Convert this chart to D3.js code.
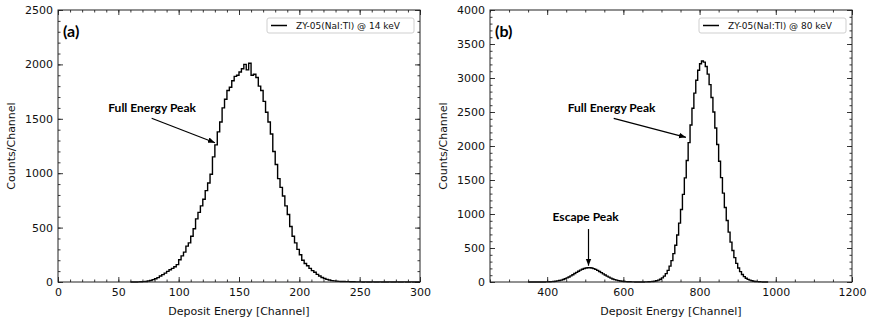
<!DOCTYPE html>
<html>
<head>
<meta charset="utf-8">
<script src="https://cdn.jsdelivr.net/npm/d3@7"></script>
<style>
  body { margin: 0; background: #fff; }
  svg { display: block; }
</style>
</head>
<body>
<svg id="chart" width="872" height="327"></svg>
<script>
// panel (a): 14 keV, bins of 2 channels starting at channel 60
const binStartA = 60, binWidthA = 2;
const countsA = [0, 0, 0, 1, 2, 3, 5, 9, 14, 22, 30, 40, 55, 68, 82, 98, 112, 125, 140, 160,
  205, 240, 275, 330, 360, 420, 490, 580, 640, 700, 760, 840, 910, 990, 1150, 1260, 1380, 1470, 1600, 1680,
  1760, 1790, 1850, 1890, 1900, 1930, 1960, 2000, 1950, 2010, 1900, 1910, 1880, 1800, 1760, 1660, 1560, 1470, 1360, 1200,
  1080, 950, 870, 790, 700, 620, 510, 420, 360, 300, 250, 200, 170, 150, 125, 105, 90, 70, 55, 42,
  32, 24, 18, 13, 10, 8, 6, 5, 4, 3, 3, 2, 2, 1, 1, 1, 0, 1, 0, 0,
  1, 0, 0, 1, 0, 0, 0, 1, 0, 0, 1, 0, 0, 1, 0, 0, 1, 0, 0, 0];

// panel (b): 80 keV, bins of 5 channels starting at channel 350
const binStartB = 350, binWidthB = 5;
const countsB = [0, 0, 0, 0, 0, 0, 0, 1, 1, 2, 2, 4, 6, 8, 11, 16, 21, 28, 37, 48,
  60, 74, 90, 106, 124, 141, 158, 174, 188, 199, 206, 210, 209, 205, 197, 185, 171, 155, 138, 120,
  103, 86, 71, 57, 45, 35, 27, 20, 15, 11, 8, 5, 4, 3, 2, 2, 1, 1, 1, 1,
  1, 2, 2, 3, 5, 7, 12, 18, 27, 41, 60, 86, 123, 171, 234, 315, 417, 541, 691, 866,
  1066, 1289, 1531, 1787, 2050, 2309, 2556, 2778, 2967, 3113, 3209, 3250, 3234, 3169, 3057, 2903, 2714, 2499, 2265, 2021,
  1775, 1535, 1307, 1095, 904, 734, 587, 463, 359, 274, 205, 152, 111, 79, 56, 39, 27, 18, 12, 8,
  5, 3, 2, 1, 1, 0];

const xTicksA = [0, 50, 100, 150, 200, 250, 300];
const yTicksA = [0, 500, 1000, 1500, 2000, 2500];
const xTicksB = [400, 600, 800, 1000, 1200];
const yTicksB = [0, 500, 1000, 1500, 2000, 2500, 3000, 3500, 4000];

const legendLabels = ["ZY-05(NaI:Tl) @ 14 keV", "ZY-05(NaI:Tl) @ 80 keV"];
const panelTags = ["(a)", "(b)"];
// annotations in data coordinates: text anchor, arrow tail, arrow head
const notesA = [{ text: "Full Energy Peak", tx: 78, ty: 1560, x1: 77.6, y1: 1505, x2: 130.1, y2: 1280 }];
const notesB = [
  { text: "Full Energy Peak", tx: 569, ty: 2500, x1: 574.7, y1: 2407, x2: 764.2, y2: 2128 },
  { text: "Escape Peak", tx: 501, ty: 897, x1: 508.5, y1: 779, x2: 508.5, y2: 240 }
];

const svg = d3.select("#chart");
const plotTop = 10, plotBottom = 282;

svg.append("defs").append("marker")
  .attr("id", "head")
  .attr("viewBox", "0 0 10 10")
  .attr("refX", 10).attr("refY", 5)
  .attr("markerWidth", 7).attr("markerHeight", 7)
  .attr("markerUnits", "userSpaceOnUse")
  .attr("orient", "auto")
  .append("path")
  .attr("d", "M0,1 L10,5 L0,9 Z")
  .attr("fill", "#000");

function drawPanel(p) {
  const x = d3.scaleLinear().domain(p.xDomain).range([p.left, p.right]);
  const y = d3.scaleLinear().domain(p.yDomain).range([plotBottom, plotTop]);
  const g = svg.append("g");

  const minorX = d3.range(p.xDomain[0], p.xDomain[1] + 0.001, p.xMinor);
  const minorY = d3.range(p.yDomain[0], p.yDomain[1] + 0.001, p.yMinor);

  const styleAxis = sel => {
    sel.select(".domain").remove();
    sel.selectAll("line").attr("stroke", "#222").attr("stroke-width", 0.9);
    sel.selectAll("text").attr("font-family", "DejaVu Sans").attr("font-size", 11).attr("fill", "#111");
  };

  // minor ticks, all four sides
  g.append("g").attr("transform", `translate(0,${plotBottom})`)
    .call(d3.axisBottom(x).tickValues(minorX).tickSize(-2.5).tickFormat("")).call(styleAxis);
  g.append("g").attr("transform", `translate(0,${plotTop})`)
    .call(d3.axisTop(x).tickValues(minorX).tickSize(-2.5).tickFormat("")).call(styleAxis);
  g.append("g").attr("transform", `translate(${p.left},0)`)
    .call(d3.axisLeft(y).tickValues(minorY).tickSize(-2.5).tickFormat("")).call(styleAxis);
  g.append("g").attr("transform", `translate(${p.right},0)`)
    .call(d3.axisRight(y).tickValues(minorY).tickSize(-2.5).tickFormat("")).call(styleAxis);

  // major ticks
  g.append("g").attr("transform", `translate(0,${plotBottom})`)
    .call(d3.axisBottom(x).tickValues(p.xTicks).tickSize(-5).tickPadding(6).tickFormat(d3.format("d"))).call(styleAxis);
  g.append("g").attr("transform", `translate(0,${plotTop})`)
    .call(d3.axisTop(x).tickValues(p.xTicks).tickSize(-5).tickFormat("")).call(styleAxis);
  g.append("g").attr("transform", `translate(${p.left},0)`)
    .call(d3.axisLeft(y).tickValues(p.yTicks).tickSize(-5).tickPadding(5).tickFormat(d3.format("d"))).call(styleAxis);
  g.append("g").attr("transform", `translate(${p.right},0)`)
    .call(d3.axisRight(y).tickValues(p.yTicks).tickSize(-5).tickFormat("")).call(styleAxis);

  // histogram outline
  const pts = [[p.binStart, 0]];
  p.counts.forEach((c, i) => pts.push([p.binStart + i * p.binWidth, c]));
  const lastEdge = p.binStart + p.counts.length * p.binWidth;
  pts.push([lastEdge, p.counts[p.counts.length - 1]]);
  pts.push([lastEdge, 0]);
  g.append("path")
    .datum(pts)
    .attr("fill", "none")
    .attr("stroke", "#000")
    .attr("stroke-width", 1.4)
    .attr("d", d3.line().x(d => x(d[0])).y(d => y(d[1])).curve(d3.curveStepAfter));

  // frame
  g.append("rect")
    .attr("x", p.left).attr("y", plotTop)
    .attr("width", p.right - p.left).attr("height", plotBottom - plotTop)
    .attr("fill", "none").attr("stroke", "#222").attr("stroke-width", 1);

  // axis titles
  g.append("text")
    .attr("x", (p.left + p.right) / 2).attr("y", 315)
    .attr("text-anchor", "middle")
    .attr("font-family", "DejaVu Sans").attr("font-size", 11).attr("fill", "#111")
    .text("Deposit Energy [Channel]");
  g.append("text")
    .attr("transform", `translate(${p.left - 43},${(plotTop + plotBottom) / 2}) rotate(-90)`)
    .attr("text-anchor", "middle")
    .attr("font-family", "DejaVu Sans").attr("font-size", 11).attr("fill", "#111")
    .text("Counts/Channel");

  // panel tag
  g.append("text")
    .attr("x", p.left + 5).attr("y", plotTop + 27)
    .attr("font-family", "Lato").attr("font-weight", "bold").attr("font-size", 16)
    .text(p.tag);

  // legend
  const lx = p.right - 153, ly = plotTop + 8;
  g.append("rect")
    .attr("x", lx).attr("y", ly).attr("width", 147).attr("height", 15)
    .attr("rx", 2).attr("fill", "#fff").attr("stroke", "#cfcfcf").attr("stroke-width", 1);
  g.append("line")
    .attr("x1", lx + 4).attr("x2", lx + 20)
    .attr("y1", ly + 7.5).attr("y2", ly + 7.5)
    .attr("stroke", "#000").attr("stroke-width", 1.5);
  g.append("text")
    .attr("x", lx + 29).attr("y", ly + 11)
    .attr("font-family", "DejaVu Sans").attr("font-size", 9).attr("fill", "#111")
    .text(p.legend);

  // annotations
  p.notes.forEach(n => {
    g.append("text")
      .attr("x", x(n.tx)).attr("y", y(n.ty))
      .attr("text-anchor", "middle")
      .attr("font-family", "Lato").attr("font-weight", "bold").attr("font-size", 12)
      .text(n.text);
    g.append("line")
      .attr("x1", x(n.x1)).attr("y1", y(n.y1))
      .attr("x2", x(n.x2)).attr("y2", y(n.y2))
      .attr("stroke", "#000").attr("stroke-width", 1.2)
      .attr("marker-end", "url(#head)");
  });
}

drawPanel({
  left: 58, right: 420, xDomain: [0, 300], yDomain: [0, 2500],
  xTicks: xTicksA, yTicks: yTicksA, xMinor: 10, yMinor: 100,
  binStart: binStartA, binWidth: binWidthA, counts: countsA,
  legend: legendLabels[0], tag: panelTags[0], notes: notesA
});
drawPanel({
  left: 490, right: 852, xDomain: [250, 1200], yDomain: [0, 4000],
  xTicks: xTicksB, yTicks: yTicksB, xMinor: 50, yMinor: 100,
  binStart: binStartB, binWidth: binWidthB, counts: countsB,
  legend: legendLabels[1], tag: panelTags[1], notes: notesB
});
</script>
</body>
</html>
